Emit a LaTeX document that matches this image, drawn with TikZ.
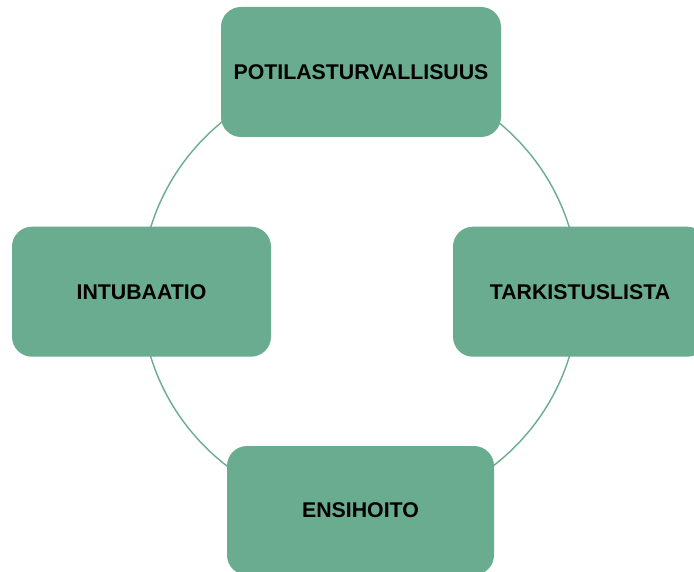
\documentclass[tikz,border=0pt]{standalone}
\usepackage{fontspec}
\setmainfont{Liberation Sans}
\definecolor{boxgreen}{HTML}{6AAC90}
\begin{document}
\begin{tikzpicture}[x=1pt,y=-1pt,
  card/.style={draw=none,fill=boxgreen,rounded corners=20pt,inner sep=0pt,
    font=\fontsize{21.3}{25}\selectfont\bfseries,text=black},
  ring/.style={draw=boxgreen,line width=1.4pt}]
\useasboundingbox (0,0) rectangle (694,572);
\clip (0,0) rectangle (694,572);
\fill[white] (0,0) rectangle (694,572);
\coordinate (c) at (360,292);
\draw[ring] (c) circle[radius=219];
\node[card,minimum width=280pt,minimum height=130pt] (top) at (361,72) {POTILASTURVALLISUUS};
\node[card,minimum width=259pt,minimum height=130pt] (left) at (141.5,291.7) {INTUBAATIO};
\node[card,minimum width=254pt,minimum height=130pt] (right) at (580,291.7) {TARKISTUSLISTA};
\node[card,minimum width=267pt,minimum height=129pt] (bottom) at (360.5,510.5) {ENSIHOITO};
\end{tikzpicture}
\end{document}
